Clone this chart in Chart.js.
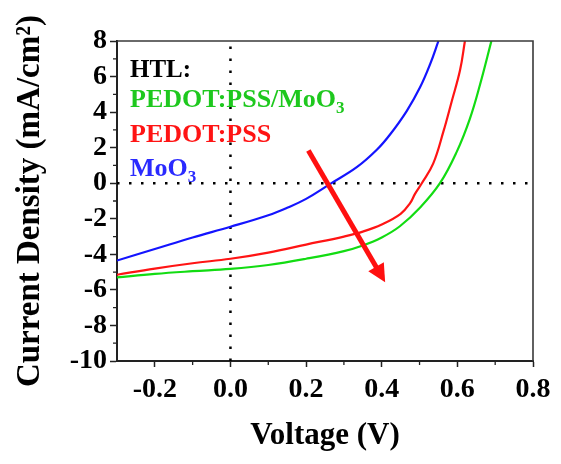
<!DOCTYPE html>
<html><head><meta charset="utf-8">
<script src="https://cdn.jsdelivr.net/npm/chart.js@4/dist/chart.umd.min.js"></script>
<style>html,body{margin:0;padding:0;background:#fff}#wrap{width:561px;height:464px}</style>
</head><body><div id="wrap"><canvas id="c" width="561" height="464"></canvas></div>
<script>
// ---- data ----
const xTicks = [-0.2, 0.0, 0.2, 0.4, 0.6, 0.8];
const xMinorTicks = [-0.1, 0.1, 0.3, 0.5, 0.7];
const yTicks = [8, 6, 4, 2, 0, -2, -4, -6, -8, -10];
const yMinorTicks = [7, 5, 3, 1, -1, -3, -5, -7, -9];
const seriesNames = ['PEDOT:PSS/MoO3', 'PEDOT:PSS', 'MoO3'];

const greenV = [-0.3, -0.2, -0.1, 0.0, 0.1, 0.2, 0.3, 0.35, 0.4, 0.448, 0.501, 0.554, 0.598, 0.633, 0.66, 0.69];
const greenJ = [-5.3, -5.1, -4.95, -4.82, -4.6, -4.25, -3.82, -3.5, -3.05, -2.42, -1.38, 0.0, 1.75, 3.62, 5.55, 8.0];

const redV = [-0.3, -0.2, -0.1, 0.0, 0.1, 0.2, 0.3, 0.35, 0.4, 0.45, 0.475, 0.488, 0.506, 0.536, 0.563, 0.585, 0.607, 0.62];
const redJ = [-5.15, -4.8, -4.5, -4.25, -3.9, -3.45, -3.0, -2.72, -2.32, -1.72, -1.12, -0.6, 0.0, 1.1, 2.9, 4.6, 6.35, 8.0];

const blueV = [-0.3, -0.2, -0.1, 0.0, 0.1, 0.15, 0.2, 0.263, 0.334, 0.387, 0.422, 0.466, 0.501, 0.528, 0.55];
const blueJ = [-4.35, -3.7, -3.05, -2.45, -1.8, -1.38, -0.88, -0.05, 0.9, 1.88, 2.74, 4.06, 5.38, 6.7, 8.0];

const zeroLineV = [0, 0];
const zeroLineJ = [-10, 8];
const zeroLineH_V = [-0.3, 0.8];
const zeroLineH_J = [0, 0];

const arrowStart = [0.206, 1.84];
const arrowEnd = [0.409, -5.57];

// ---- build ----
const zip = (xs, ys) => xs.map((x, i) => ({x: x, y: ys[i]}));
const SERIF = "'Liberation Serif', 'Times New Roman', serif";
const GREEN = '#12dc12', RED = '#ff1414', BLUE = '#1414ff';
const TXT_GREEN = '#1ec81e';

const curve = (label, data, color) => ({
  label, data, borderColor: color, borderWidth: 2.2, pointRadius: 0,
  fill: false, tension: 0.4, order: 1
});
const dotted = (data) => ({
  label: '', data, borderColor: '#000', borderWidth: 2.5, pointRadius: 0,
  borderDash: [2.5, 9.5], fill: false, tension: 0, order: 5
});

const overlay = {
  id: 'overlay',
  afterDatasetsDraw(chart) {
    const ctx = chart.ctx, ca = chart.chartArea;
    const xs = chart.scales.x, ys = chart.scales.y;
    ctx.save();
    // box top/right
    ctx.strokeStyle = '#3a3a3a';
    ctx.lineWidth = 1.6;
    ctx.beginPath();
    ctx.moveTo(ca.left, ca.top); ctx.lineTo(ca.right, ca.top); ctx.lineTo(ca.right, ca.bottom);
    ctx.stroke();
    // minor ticks
    ctx.strokeStyle = '#222';
    ctx.lineWidth = 1.3;
    ctx.beginPath();
    xMinorTicks.forEach(v => { const p = xs.getPixelForValue(v); ctx.moveTo(p, ca.bottom); ctx.lineTo(p, ca.bottom + 4); });
    yMinorTicks.forEach(v => { const p = ys.getPixelForValue(v); ctx.moveTo(ca.left, p); ctx.lineTo(ca.left - 4, p); });
    ctx.stroke();
    // arrow
    const x1 = xs.getPixelForValue(arrowStart[0]), y1 = ys.getPixelForValue(arrowStart[1]);
    const x2 = xs.getPixelForValue(arrowEnd[0]), y2 = ys.getPixelForValue(arrowEnd[1]);
    const ang = Math.atan2(y2 - y1, x2 - x1);
    const headL = 18, headW = 9;
    const bx = x2 - headL * Math.cos(ang), by = y2 - headL * Math.sin(ang);
    ctx.strokeStyle = '#ff1010'; ctx.fillStyle = '#ff1010';
    ctx.lineWidth = 5; ctx.lineCap = 'butt';
    ctx.beginPath(); ctx.moveTo(x1, y1); ctx.lineTo(bx + 2 * Math.cos(ang), by + 2 * Math.sin(ang)); ctx.stroke();
    ctx.beginPath();
    ctx.moveTo(x2, y2);
    ctx.lineTo(bx + headW * Math.sin(ang), by - headW * Math.cos(ang));
    ctx.lineTo(bx - headW * Math.sin(ang), by + headW * Math.cos(ang));
    ctx.closePath(); ctx.fill();
    // legend text
    const lx = ca.left + 13;
    ctx.textBaseline = 'alphabetic'; ctx.textAlign = 'left';
    const big = 'bold 26px ' + SERIF, sub = 'bold 17px ' + SERIF;
    const drawSub = (text, color, y) => {
      const base = text.replace(/3$/, '');
      ctx.fillStyle = color; ctx.font = big; ctx.fillText(base, lx, y);
      const w = ctx.measureText(base).width;
      if (text.endsWith('3')) { ctx.font = sub; ctx.fillText('3', lx + w, y + 6); }
    };
    ctx.fillStyle = '#000'; ctx.font = 'bold 25px ' + SERIF; ctx.fillText('HTL:', lx, ca.top + 36);
    drawSub(seriesNames[0], TXT_GREEN, ca.top + 66);
    drawSub(seriesNames[1], '#ff1414', ca.top + 101);
    drawSub(seriesNames[2], '#2a2aff', ca.top + 135);
    ctx.restore();
  }
};

new Chart(document.getElementById('c'), {
  type: 'line',
  data: {
    datasets: [
      dotted(zip(zeroLineV, zeroLineJ)),
      dotted(zip(zeroLineH_V, zeroLineH_J)),
      curve(seriesNames[0], zip(greenV, greenJ), GREEN),
      curve(seriesNames[1], zip(redV, redJ), RED),
      curve(seriesNames[2], zip(blueV, blueJ), BLUE)
    ]
  },
  options: {
    responsive: false, animation: false, devicePixelRatio: 1,
    layout: { padding: { left: 0, top: 41, right: 28, bottom: 0 } },
    plugins: { legend: { display: false }, tooltip: { enabled: false } },
    scales: {
      x: {
        type: 'linear', min: -0.3, max: 0.8,
        afterBuildTicks: s => { s.ticks = xTicks.map(v => ({ value: v })); },
        afterFit: s => { s.height = 103; },
        grid: { display: true, drawOnChartArea: false, drawTicks: true, tickLength: 6, tickWidth: 1.5, tickColor: '#222' },
        border: { display: true, color: '#222', width: 2 },
        ticks: { autoSkip: false, maxRotation: 0, padding: 6, color: '#000',
          font: { family: SERIF, size: 28, weight: 'bold' },
          callback: v => Number(v).toFixed(1) },
        title: { display: true, text: 'Voltage (V)', color: '#000',
          font: { family: SERIF, size: 31, weight: 'bold' }, padding: { top: 0, bottom: 9 } }
      },
      y: {
        type: 'linear', min: -10, max: 8,
        afterBuildTicks: s => { s.ticks = yTicks.map(v => ({ value: v })); },
        afterFit: s => { s.width = 117; },
        grid: { display: true, drawOnChartArea: false, drawTicks: true, tickLength: 7, tickWidth: 1.5, tickColor: '#222' },
        border: { display: true, color: '#222', width: 2 },
        ticks: { autoSkip: false, padding: 3, color: '#000',
          font: { family: SERIF, size: 28, weight: 'bold' },
          callback: v => String(v) },
        title: { display: true, text: 'Current Density (mA/cm²)', color: '#000',
          font: { family: SERIF, size: 33, weight: 'bold' }, padding: { top: 11, bottom: 0 } }
      }
    }
  },
  plugins: [overlay]
});
</script></body></html>
